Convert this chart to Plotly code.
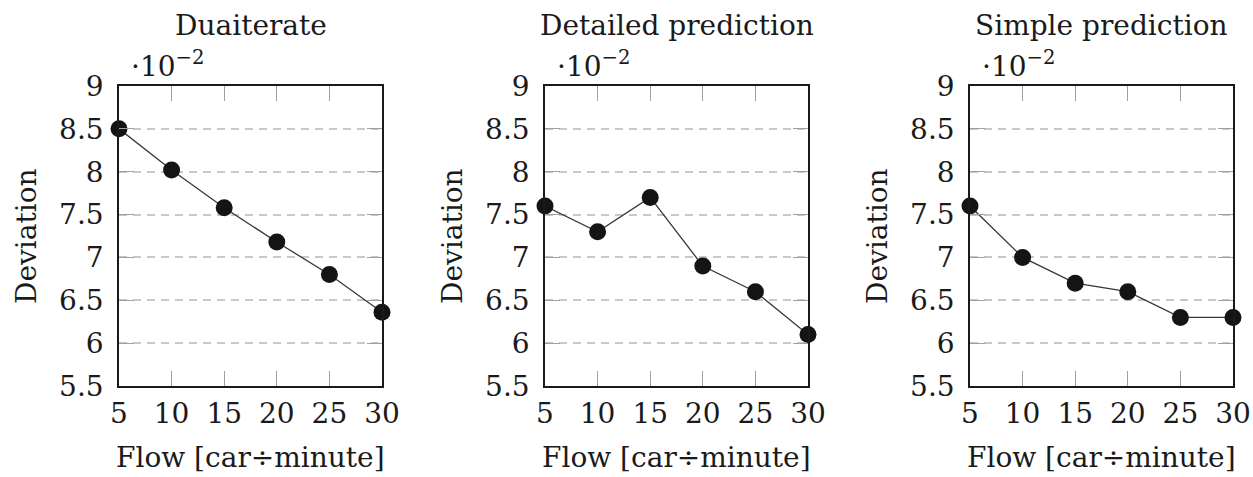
import plotly.graph_objects as go

flow = [5, 10, 15, 20, 25, 30]
duaiterate = [8.5, 8.02, 7.58, 7.18, 6.8, 6.36]
detailed = [7.6, 7.3, 7.7, 6.9, 6.6, 6.1]
simple = [7.6, 7.0, 6.7, 6.6, 6.3, 6.3]
titles = ["Duaiterate", "Detailed prediction", "Simple prediction"]
series = [duaiterate, detailed, simple]
ytickvals = [5.5, 6, 6.5, 7, 7.5, 8, 8.5, 9]
yticktext = ["5.5", "6", "6.5", "7", "7.5", "8", "8.5", "9"]
xtickvals = [5, 10, 15, 20, 25, 30]

W, H = 1253, 477
FONT = "DejaVu Serif"
FS = 28
panels_px = [(119, 382), (545, 808), (970, 1233)]
ytop, ybot = 86, 386

fig = go.Figure()
annotations = []
layout = dict(
    template="none",
    width=W, height=H, autosize=False, margin=dict(l=0, r=0, t=0, b=0, pad=0),
    paper_bgcolor="white", plot_bgcolor="white", showlegend=False,
    font=dict(family=FONT, size=FS, color="#1a1a1a"),
)
for i, (ys, title, (x0, x1)) in enumerate(zip(series, titles, panels_px)):
    n = "" if i == 0 else str(i + 1)
    fig.add_trace(go.Scatter(
        x=flow, y=ys, mode="lines+markers", xaxis="x" + n, yaxis="y" + n,
        line=dict(color="#383838", width=1.3),
        marker=dict(size=17, color="#141414", line=dict(width=0)), cliponaxis=False,
    ))
    layout["xaxis" + n] = dict(
        domain=[x0 / W, x1 / W], anchor="y" + n, range=[5, 30], automargin=False,
        tickvals=xtickvals, ticks="inside", ticklen=15, tickwidth=1,
        tickcolor="#a0a0a0", showline=True, linecolor="#1a1a1a", linewidth=1.5,
        mirror="allticks", showgrid=False, zeroline=False, ticklabelstandoff=2,
        tickfont=dict(family=FONT, size=FS),
    )
    layout["yaxis" + n] = dict(
        domain=[1 - ybot / H, 1 - ytop / H], anchor="x" + n, range=[5.5, 9],
        automargin=False,
        tickvals=ytickvals, ticktext=yticktext, ticks="inside", ticklen=15,
        tickwidth=1, tickcolor="#a0a0a0", showline=True, linecolor="#1a1a1a",
        linewidth=1.5, mirror="allticks", showgrid=True, gridcolor="#c8c8c8",
        gridwidth=1.5, griddash="8px,6px", zeroline=False, ticklabelstandoff=8,
        tickfont=dict(family=FONT, size=FS),
    )
    cx = (x0 + x1) / 2
    annotations.append(dict(text=title, x=cx / W, y=1 - 25 / H, xref="paper", yref="paper",
                            showarrow=False, xanchor="center", yanchor="middle",
                            font=dict(family=FONT, size=FS)))
    annotations.append(dict(text="·10<sup>−2</sup>", x=(x0 + 10) / W, y=1 - 64 / H,
                            xref="paper", yref="paper", showarrow=False,
                            xanchor="left", yanchor="middle",
                            font=dict(family=FONT, size=FS)))
    annotations.append(dict(text="Deviation", x=(x0 - 92) / W, y=1 - (ytop + ybot) / 2 / H,
                            xref="paper", yref="paper", showarrow=False, textangle=-90,
                            xanchor="center", yanchor="middle",
                            font=dict(family=FONT, size=FS)))
    annotations.append(dict(text="Flow [car÷minute]", x=cx / W, y=1 - 457 / H,
                            xref="paper", yref="paper", showarrow=False,
                            xanchor="center", yanchor="middle",
                            font=dict(family=FONT, size=FS)))
layout["annotations"] = annotations
fig.update_layout(**layout)
fig.write_html("out.html", config={"displayModeBar": False},
               post_script="document.body.style.margin='0';")
